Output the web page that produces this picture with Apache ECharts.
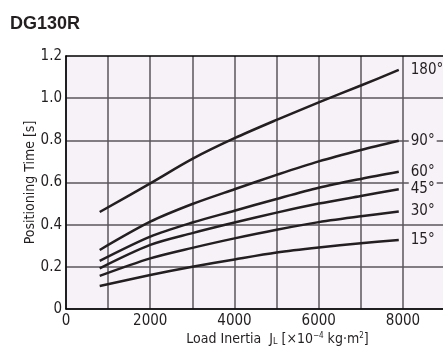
<!DOCTYPE html>
<html>
<head>
<meta charset="utf-8">
<script src="https://cdn.jsdelivr.net/npm/echarts@6/dist/echarts.min.js"></script>
<style>
  html, body { margin: 0; padding: 0; background: #fff; }
  #chart { width: 443px; height: 349px; }
</style>
</head>
<body>
<div id="chart"></div>
<script>
// load inertia values (x 10^-4 kg m2)
var inertia = [800, 2000, 3000, 4000, 5000, 6000, 7000, 7900];
// positioning time [s] per rotation angle
var angles = ['180°', '90°', '60°', '45°', '30°', '15°'];
var t180 = [0.46, 0.596, 0.712, 0.81, 0.897, 0.98, 1.06, 1.134];
var t90 = [0.28, 0.414, 0.498, 0.568, 0.636, 0.70, 0.754, 0.798];
var t60 = [0.228, 0.343, 0.41, 0.466, 0.522, 0.575, 0.617, 0.651];
var t45 = [0.193, 0.304, 0.36, 0.41, 0.457, 0.50, 0.536, 0.568];
var t30 = [0.157, 0.24, 0.29, 0.335, 0.376, 0.412, 0.44, 0.462];
var t15 = [0.109, 0.161, 0.20, 0.235, 0.268, 0.292, 0.312, 0.327];
var times = [t180, t90, t60, t45, t30, t15];

var font = '"DejaVu Sans Condensed", "Liberation Sans", sans-serif';
var plotBg = '#f6f2f7';
var gridColor = '#5a565b';

var series = angles.map(function (name, i) {
    return {
        name: name,
        type: 'line',
        smooth: 0.3,
        symbol: 'none',
        data: inertia.map(function (x, j) { return [x, times[i][j]]; }),
        lineStyle: { color: '#231f20', width: 2.5 },
        endLabel: {
            show: true,
            formatter: '{a}',
            distance: 10,
            color: '#231f20',
            fontFamily: font,
            fontSize: 15,
            backgroundColor: plotBg,
            padding: [0, 2, 0, 2]
        },
        silent: true
    };
});

var chart = echarts.init(document.getElementById('chart'));
chart.setOption({
    animation: false,
    backgroundColor: '#fff',
    title: {
        text: 'DG130R',
        left: 5,
        top: 10,
        textStyle: { fontFamily: '"Liberation Sans", Arial, sans-serif', fontWeight: 'bold', fontSize: 18, color: '#231f20' }
    },
    grid: {
        left: 66, right: 0, top: 56, bottom: 40,
        outerBoundsMode: 'none',
        show: true, backgroundColor: plotBg, borderWidth: 0
    },
    xAxis: [{
        type: 'value',
        min: 0, max: 8950, interval: 1000,
        name: 'Load Inertia  J{sub|L} [×10{sup|−4} kg·m{sup|2}]',
        nameLocation: 'middle',
        nameGap: 23,
        nameMoveOverlap: false,
        nameTextStyle: {
            fontFamily: font, fontSize: 14, color: '#231f20',
            padding: [0, 0, 0, 46],
            rich: {
                sub: { fontFamily: font, fontSize: 9, color: '#231f20', verticalAlign: 'bottom' },
                sup: { fontFamily: font, fontSize: 8, color: '#231f20', verticalAlign: 'top' }
            }
        },
        axisLine: { lineStyle: { color: '#000', width: 1.5 } },
        axisTick: { show: false },
        axisLabel: {
            margin: 5,
            fontFamily: font, fontSize: 15, color: '#231f20',
            formatter: function (v) { return (v % 2000 === 0 && v <= 8000) ? String(v) : ''; }
        },
        splitLine: { show: true, showMaxLine: false, lineStyle: { color: gridColor, width: 1.5 } }
    }, {
        type: 'value',
        position: 'top',
        min: 0, max: 8950,
        axisLine: { show: true, lineStyle: { color: '#000', width: 1.5 } },
        axisTick: { show: false },
        axisLabel: { show: false },
        splitLine: { show: false }
    }],
    yAxis: {
        type: 'value',
        min: 0, max: 1.2, interval: 0.2,
        name: 'Positioning Time [s]',
        nameLocation: 'middle',
        nameGap: 29,
        nameMoveOverlap: false,
        nameTextStyle: { fontFamily: font, fontSize: 14, color: '#231f20' },
        axisLine: { show: true, lineStyle: { color: '#000', width: 1.5 } },
        axisTick: { show: false },
        axisLabel: {
            margin: 4,
            fontFamily: font, fontSize: 15, color: '#231f20',
            formatter: function (v) { return v === 0 ? '0' : v.toFixed(1); }
        },
        splitLine: { show: true, showMaxLine: false, lineStyle: { color: gridColor, width: 1.5 } }
    },
    series: series
});
</script>
</body>
</html>
